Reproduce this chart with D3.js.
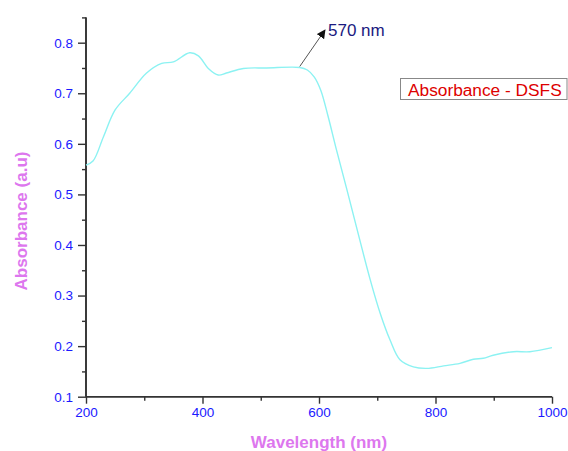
<!DOCTYPE html>
<html>
<head>
<meta charset="utf-8">
<script src="https://cdn.jsdelivr.net/npm/d3@7"></script>
<style>
  html, body { margin: 0; padding: 0; background: #fff; }
  svg { display: block; font-family: Arial, "Liberation Sans", sans-serif; }
</style>
</head>
<body>
<svg id="chart" width="568" height="451"></svg>
<script>
// Absorbance spectrum of DSFS
const wavelength = [200, 212, 230, 250, 275, 304, 330, 350, 378, 393, 410, 427, 441, 470, 510, 567,
  580, 592, 603, 615, 630, 648, 670, 688, 705, 722, 739, 762, 785, 814, 842, 865, 882, 899, 934, 962, 1000];
const absorbance = [0.558, 0.566, 0.614, 0.667, 0.700, 0.740, 0.759, 0.762, 0.780, 0.774, 0.749, 0.736, 0.740, 0.749, 0.750, 0.751,
  0.746, 0.732, 0.706, 0.657, 0.588, 0.509, 0.410, 0.331, 0.265, 0.212, 0.173, 0.159, 0.156, 0.161, 0.166, 0.174, 0.176, 0.182, 0.189, 0.189, 0.197];
const xTicks = [200, 400, 600, 800, 1000];
const xMinorTicks = [300, 500, 700, 900];
const yTicks = [0.1, 0.2, 0.3, 0.4, 0.5, 0.6, 0.7, 0.8];
const yMinorTicks = [0.15, 0.25, 0.35, 0.45, 0.55, 0.65, 0.75, 0.85];
const peakLabel = "570 nm";
const peakWavelength = 567;
const legendLabel = "Absorbance - DSFS";

const svg = d3.select("#chart");
const x = d3.scaleLinear().domain([200, 1000]).range([86, 552]);
const y = d3.scaleLinear().domain([0.1, 0.85]).range([396.7, 17.4]);

const axisColor = "#333";
const tickColor = "#1a1aff";
const titleColor = "#dd77ee";

// x axis
const gx = svg.append("g").attr("transform", `translate(0,${y(0.1)})`);
gx.call(d3.axisBottom(x).tickValues(xTicks).tickSize(7).tickPadding(4).tickFormat(d3.format("d")));
gx.append("g").call(d3.axisBottom(x).tickValues(xMinorTicks).tickSize(4).tickFormat(""));
// y axis
const gy = svg.append("g").attr("transform", `translate(${x(200)},0)`);
gy.call(d3.axisLeft(y).tickValues(yTicks).tickSize(8).tickPadding(5).tickFormat(d3.format(".1f")));
gy.append("g").call(d3.axisLeft(y).tickValues(yMinorTicks).tickSize(4).tickFormat(""));

svg.selectAll(".domain").attr("stroke", axisColor).attr("stroke-width", 1.6);
svg.selectAll(".tick line").attr("stroke", axisColor).attr("stroke-width", 1.4);
svg.selectAll(".tick text").attr("fill", tickColor).attr("font-size", 13.5)
  .attr("font-family", "Arial, 'Liberation Sans', sans-serif");
gx.selectAll(".domain").attr("d", `M${x(200)},0H${x(1000)}`);
gy.selectAll(".domain").attr("d", `M0,${y(0.85)}V${y(0.1)}`);

// axis titles
svg.append("text")
  .attr("x", x(600)).attr("y", 448)
  .attr("text-anchor", "middle")
  .attr("font-size", 17).attr("font-weight", "bold")
  .attr("fill", titleColor)
  .text("Wavelength (nm)");
svg.append("text")
  .attr("transform", `translate(27,${221}) rotate(-90)`)
  .attr("text-anchor", "middle")
  .attr("font-size", 17).attr("font-weight", "bold")
  .attr("fill", titleColor)
  .text("Absorbance (a.u)");

// spectrum line
const line = d3.line()
  .x((d, i) => x(wavelength[i]))
  .y((d, i) => y(absorbance[i]))
  .curve(d3.curveCatmullRom.alpha(0.5));
svg.append("path")
  .datum(absorbance)
  .attr("d", line)
  .attr("fill", "none")
  .attr("stroke", "#8cf2f2")
  .attr("stroke-width", 1.4);

// annotation arrow for the absorption edge
const defs = svg.append("defs");
defs.append("marker")
  .attr("id", "arrowhead")
  .attr("viewBox", "0 0 10 10")
  .attr("refX", 9).attr("refY", 5)
  .attr("markerWidth", 9).attr("markerHeight", 9)
  .attr("markerUnits", "userSpaceOnUse")
  .attr("orient", "auto")
  .append("path").attr("d", "M0,0L10,5L0,10z").attr("fill", "#111");
const pi = wavelength.indexOf(peakWavelength);
svg.append("line")
  .attr("x1", x(peakWavelength)).attr("y1", y(absorbance[pi]) - 1)
  .attr("x2", 325).attr("y2", 30)
  .attr("stroke", "#555").attr("stroke-width", 1)
  .attr("marker-end", "url(#arrowhead)");
svg.append("text")
  .attr("x", 328).attr("y", 35.5)
  .attr("font-size", 17)
  .attr("fill", "#1a1a80")
  .text(peakLabel);

// legend
const lg = svg.append("g");
lg.append("rect")
  .attr("x", 400.5).attr("y", 78.5)
  .attr("width", 166.5).attr("height", 21)
  .attr("fill", "#fff").attr("stroke", "#888").attr("stroke-width", 1);
lg.append("text")
  .attr("x", 408).attr("y", 96)
  .attr("font-size", 17.3)
  .attr("fill", "#dd0000")
  .text(legendLabel);
</script>
</body>
</html>
